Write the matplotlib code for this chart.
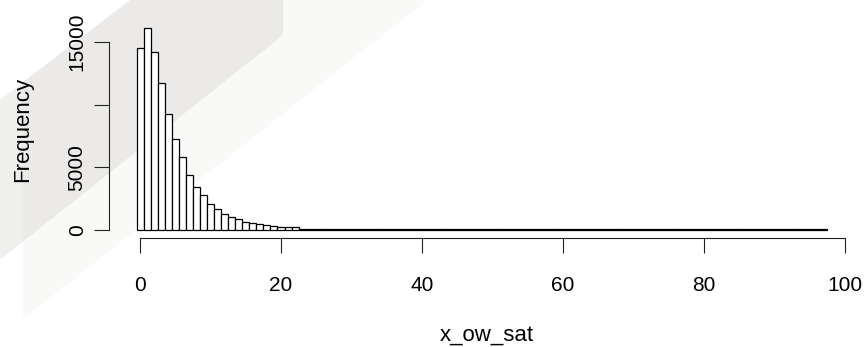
"""Histogram of x_ow_sat, redrawn in the style of an R base-graphics hist()"""

import matplotlib
matplotlib.use("Agg")
import matplotlib.pyplot as plt
from matplotlib.patches import Polygon

plt.rcParams['font.family'] = ['Liberation Sans', 'DejaVu Sans']

# counts per bin, bins of width 1 starting at -0.5
counts = [14500, 16100, 14200, 11750, 9280, 7230, 5790, 4400, 3390, 2750,
          2080, 1630, 1250, 1000, 820, 650, 540, 430, 340, 300,
          230, 210, 190, 90, 85, 80, 75, 70,
          45, 44, 42, 41, 40, 39, 38, 37, 36, 36, 35, 35, 34,
          34, 33, 33, 32, 32, 31, 31, 30, 30, 30, 29, 29, 29, 28, 28, 28, 28, 27, 27,
          27, 27, 26, 26, 26, 26, 26, 25, 25, 25, 25, 25, 25, 24, 24, 24, 24, 24, 24, 24,
          23, 23, 23, 23, 23, 23, 23, 23, 22, 22, 22, 22, 22, 22, 22, 22, 22, 22]
bin_start = -0.5
bin_width = 1.0

x_ticks = [0, 20, 40, 60, 80, 100]
y_ticks = [0, 5000, 10000, 15000]
y_tick_labels = ["0", "5000", "", "15000"]

W, H = 867, 347
fig = plt.figure(figsize=(W / 100, H / 100), dpi=100)


def to_fig(points):
    return [(x / W, 1 - y / H) for x, y in points]


# faint grey watermark bands behind the plot
bands = [
    ([(23, 241.7), (283, 35), (283, 0), (427, 0), (23, 319)], "#f9f9f7"),
    ([(0, 100), (23, 82.3), (23, 241.7), (0, 260)], "#efefed"),
    ([(23, 82.3), (130, 0), (283, 0), (283, 35), (23, 241.7)], "#ebeae8"),
]
for pts, col in bands:
    fig.patches.append(Polygon(to_fig(pts), closed=True, transform=fig.transFigure,
                               facecolor=col, edgecolor="none", zorder=-5))

ax = fig.add_axes([108.6 / W, 1 - 238 / H, (862.3 - 108.6) / W, (238 - 12) / H])
ax.set_zorder(2)
ax.patch.set_alpha(0)

lefts = [bin_start + i * bin_width for i in range(len(counts))]
ax.bar(lefts, counts, width=bin_width, align="edge", facecolor="white",
       edgecolor="black", linewidth=0.9)

ax.set_xlim(-4.46, 102.46)
ax.set_ylim(-670, 17414)

for side in ["top", "right"]:
    ax.spines[side].set_visible(False)
ax.spines["left"].set_bounds(0, 15000)
ax.spines["bottom"].set_bounds(0, 100)
for side in ["left", "bottom"]:
    ax.spines[side].set_linewidth(0.8)
    ax.spines[side].set_color("#222222")

ax.set_xticks(x_ticks)
ax.set_xticklabels([str(t) for t in x_ticks])
ax.set_yticks(y_ticks)
ax.set_yticklabels(y_tick_labels, rotation=90, va="center")
ax.tick_params(axis="both", length=10.8, width=0.8, color="#222222", labelsize=15)
ax.tick_params(axis="x", pad=16.5)
ax.tick_params(axis="y", pad=5)

fig.text(23 / W, 1 - 129 / H, "Frequency", rotation=90, ha="center", va="center", fontsize=16)
fig.text(487 / W, 1 - 335 / H, "x_ow_sat", ha="center", va="center", fontsize=16)

fig.savefig("out.png", dpi=100)
